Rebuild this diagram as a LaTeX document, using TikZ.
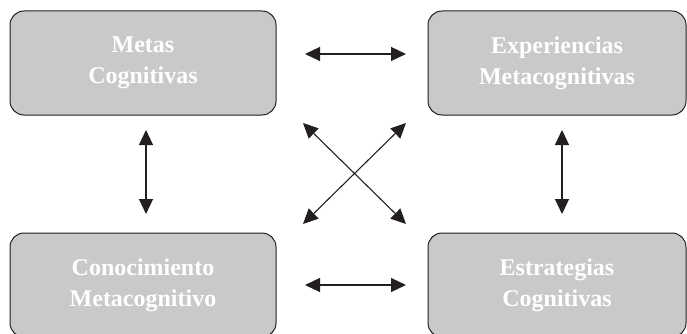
\documentclass[tikz,border=0pt]{standalone}
\usepackage{fontspec}
\setmainfont{Liberation Serif}
\usetikzlibrary{arrows.meta}
\definecolor{boxfill}{HTML}{C8C9CB}
\definecolor{ink}{HTML}{231F20}
\tikzset{
  box/.style={draw=ink, line width=1pt, fill=boxfill, rounded corners=14pt,
    minimum width=266pt, minimum height=104pt, inner sep=0pt,
    text=white, font=\bfseries\fontsize{24}{31}\selectfont, align=center},
  link/.style={draw=ink, line width=1.1pt, {Triangle[length=15pt,width=14pt]}-{Triangle[length=15pt,width=14pt]}}
}
\begin{document}
\begin{tikzpicture}[x=1pt,y=-1pt]
\useasboundingbox (0,0) rectangle (687,334);
\begin{scope}
\clip (0,0) rectangle (687,334);
\node[box] (tl) at (143,63) {Metas\\Cognitivas};
\node[box, minimum width=258pt] (tr) at (557,63) {Experiencias\\Metacognitivas};
\node[box] (bl) at (143,285) {Conocimiento\\Metacognitivo};
\node[box, minimum width=258pt] (br) at (557,285) {Estrategias\\Cognitivas};
\end{scope}
\coordinate (h1a) at (305,54);  \coordinate (h1b) at (406,54);
\coordinate (h2a) at (305,285); \coordinate (h2b) at (406,285);
\coordinate (v1a) at (146,130); \coordinate (v1b) at (146,214);
\coordinate (v2a) at (562,130); \coordinate (v2b) at (562,214);
\coordinate (d1a) at (303,123); \coordinate (d1b) at (406,224);
\coordinate (d2a) at (406,123); \coordinate (d2b) at (303,224);
\draw[link] (h1a) -- (h1b);
\draw[link] (h2a) -- (h2b);
\draw[link] (v1a) -- (v1b);
\draw[link] (v2a) -- (v2b);
\draw[link] (d1a) -- (d1b);
\draw[link] (d2a) -- (d2b);
\end{tikzpicture}
\end{document}
